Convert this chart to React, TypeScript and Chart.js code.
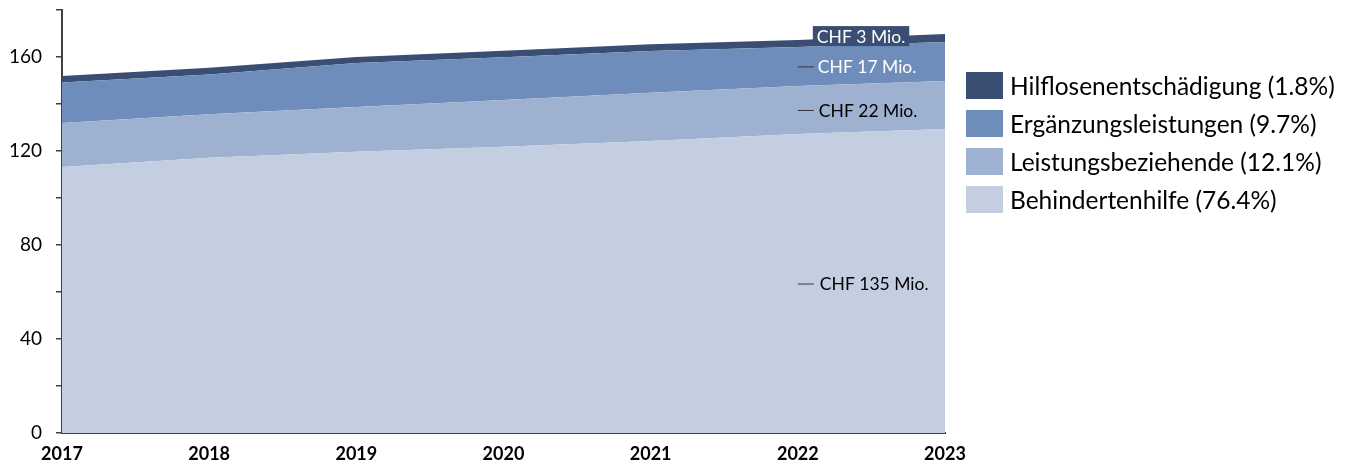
import React, { useEffect, useRef } from 'react';
import { Chart, registerables } from 'chart.js';

Chart.register(...registerables);

const years = ['2017', '2018', '2019', '2020', '2021', '2022', '2023'];
const behindertenhilfe = [113.2, 117.1, 119.7, 121.8, 124.3, 127.2, 129.4];
const leistungsbeziehende = [18.7, 18.5, 19.0, 19.9, 20.5, 20.5, 20.4];
const ergaenzungsleistungen = [17.2, 17.0, 18.7, 18.2, 17.8, 16.6, 16.6];
const hilflosenentschaedigung = [2.8, 2.8, 2.6, 2.8, 2.8, 2.9, 3.4];

const seriesLabels = [
  'Behindertenhilfe (76.4%)',
  'Leistungsbeziehende (12.1%)',
  'Ergänzungsleistungen (9.7%)',
  'Hilflosenentschädigung (1.8%)',
];
const seriesColors = ['#C4CEE1', '#9EB1D0', '#6E8DBA', '#394E72'];
const annotationTexts = ['CHF 135 Mio.', 'CHF 22 Mio.', 'CHF 17 Mio.', 'CHF 3 Mio.'];
const annotationIndex = 5;

const FONT = 'Lato, "Open Sans", sans-serif';

const annotationPlugin = {
  id: 'segmentLabels',
  afterDatasetsDraw(chart: any) {
    const ctx = chart.ctx;
    const xs = chart.scales.x;
    const ys = chart.scales.y;
    const x = xs.getPixelForValue(annotationIndex);
    let cum = 0;
    ctx.save();
    ctx.font = `17.5px ${FONT}`;
    ctx.textBaseline = 'middle';
    chart.data.datasets.forEach((ds: any, i: number) => {
      const v = ds.data[annotationIndex];
      const mid = cum + v / 2;
      cum += v;
      if (i < 3) {
        const y = ys.getPixelForValue(mid);
        ctx.strokeStyle = '#3a3a3a';
        ctx.lineWidth = 1;
        ctx.beginPath();
        ctx.moveTo(x, y + 0.5);
        ctx.lineTo(x + 16, y + 0.5);
        ctx.stroke();
        ctx.fillStyle = i === 2 ? '#ffffff' : '#000000';
        ctx.textAlign = 'left';
        ctx.fillText(annotationTexts[i], x + 20 + (2 - i), y + 1);
      } else {
        const y = ys.getPixelForValue(cum) - 4;
        const tw = ctx.measureText(annotationTexts[i]).width;
        const bx = x + 15;
        ctx.fillStyle = seriesColors[3];
        ctx.fillRect(bx, y - 10, tw + 8, 20);
        ctx.fillStyle = '#ffffff';
        ctx.textAlign = 'left';
        ctx.fillText(annotationTexts[i], bx + 4, y + 1);
      }
    });
    ctx.restore();
  },
};

const legendPlugin = {
  id: 'customLegend',
  afterDraw(chart: any) {
    const ctx = chart.ctx;
    const area = chart.chartArea;
    const x0 = area.right + 21;
    ctx.save();
    ctx.font = `24.5px ${FONT}`;
    ctx.textBaseline = 'middle';
    ctx.textAlign = 'left';
    const n = chart.data.datasets.length;
    for (let r = 0; r < n; r++) {
      const i = n - 1 - r;
      const ds = chart.data.datasets[i];
      const top = area.top + 62 + r * 38;
      ctx.fillStyle = ds.backgroundColor;
      ctx.fillRect(x0, top, 37, 27);
      ctx.fillStyle = '#000000';
      ctx.fillText(ds.label, x0 + 44, top + 15);
    }
    ctx.restore();
  },
};

export default function App() {
  const ref = useRef<HTMLCanvasElement>(null);
  useEffect(() => {
    if (!ref.current) return;
    const series = [behindertenhilfe, leistungsbeziehende, ergaenzungsleistungen, hilflosenentschaedigung];
    const chart = new Chart(ref.current, {
      type: 'line',
      data: {
        labels: years,
        datasets: series.map((d, i) => ({
          label: seriesLabels[i],
          data: d,
          backgroundColor: seriesColors[i],
          borderColor: seriesColors[i],
          borderWidth: 0,
          pointRadius: 0,
          tension: 0,
          fill: i === 0 ? 'origin' : '-1',
        })),
      },
      options: {
        animation: false,
        responsive: false,
        maintainAspectRatio: false,
        layout: { padding: { top: 10, right: 413, bottom: 0, left: 0 } },
        plugins: {
          legend: { display: false },
          tooltip: { enabled: false },
        },
        scales: {
          x: {
            type: 'category',
            offset: false,
            grid: { display: false, drawTicks: false },
            border: { display: true, color: '#404040', width: 2 },
            ticks: {
              color: '#000000',
              font: { family: FONT, size: 18, weight: 'bold' },
              padding: 10,
              maxRotation: 0,
              autoSkip: false,
            },
            afterFit(scale: any) {
              scale.height = 30;
              scale.paddingLeft = 0;
              scale.paddingRight = 0;
            },
          },
          y: {
            stacked: true,
            min: 0,
            max: 180,
            grid: {
              drawOnChartArea: false,
              drawTicks: true,
              tickLength: 6,
              color: '#404040',
              lineWidth: 1.5,
            },
            border: { display: true, color: '#404040', width: 2 },
            ticks: {
              stepSize: 20,
              color: '#000000',
              font: { family: FONT, size: 19 },
              padding: 14,
              callback: (v: any) => (Number(v) % 40 === 0 && Number(v) !== 180 ? String(v) : ''),
            },
            afterFit(scale: any) {
              scale.width = 62;
              scale.paddingTop = 0;
              scale.paddingBottom = 0;
            },
          },
        },
      } as any,
      plugins: [annotationPlugin, legendPlugin],
    });
    return () => chart.destroy();
  }, []);
  return (
    <div style={{ position: 'fixed', left: 0, top: 0, width: 1358, height: 463, background: '#ffffff' }}>
      <canvas ref={ref} width={1358} height={463} style={{ width: 1358, height: 463, display: 'block' }} />
    </div>
  );
}
